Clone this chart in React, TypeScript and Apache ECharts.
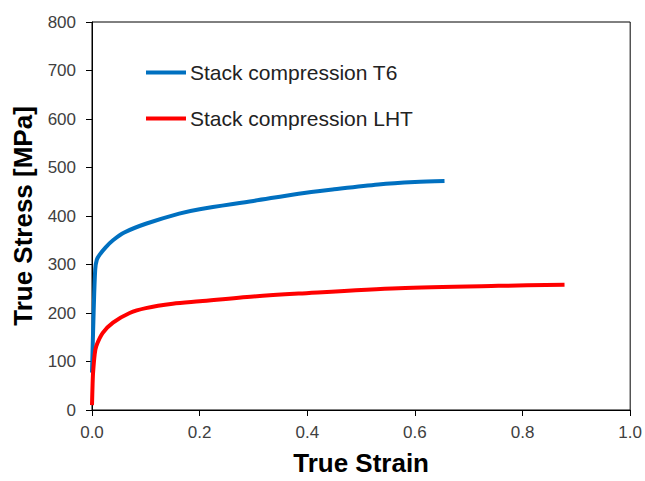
import React, { useEffect, useRef } from "react";
import * as echarts from "echarts";

const seriesNames = ["Stack compression T6", "Stack compression LHT"];
const t6Strain = [0.0, 0.003, 0.006, 0.009, 0.014, 0.025, 0.039, 0.06, 0.1, 0.162, 0.2, 0.3, 0.384, 0.45, 0.532, 0.6, 0.655];
const t6Stress = [77, 200, 290, 310, 320, 335, 350, 366, 384, 405, 414, 431, 446, 455, 465, 470, 472];
const lhtStrain = [0.0, 0.001, 0.002, 0.005, 0.008, 0.02, 0.039, 0.07, 0.1, 0.15, 0.2, 0.3, 0.384, 0.57, 0.755, 0.878];
const lhtStress = [10, 50, 77, 115, 132, 159, 180, 200, 210, 219, 224, 234, 240, 251, 256, 258];

export default function App() {
  const ref = useRef<HTMLDivElement>(null);
  useEffect(() => {
    if (!ref.current) return;
    const chart = echarts.init(ref.current, null, { renderer: "svg" });
    const font = "Liberation Sans, Arial, sans-serif";
    chart.setOption({
      animation: false,
      backgroundColor: "#fff",
      grid: { left: 92, right: 13, top: 22, bottom: 66, show: true, borderColor: "#000", borderWidth: 1, containLabel: false },
      legend: {
        orient: "vertical",
        left: 146,
        top: 62,
        padding: 0,
        itemWidth: 40,
        itemHeight: 4,
        itemGap: 25,
        icon: "rect",
        data: seriesNames,
        textStyle: { fontFamily: font, fontSize: 21, color: "#222", padding: [0, 0, 0, -1] },
      },
      xAxis: {
        type: "value",
        min: 0,
        max: 1,
        interval: 0.2,
        name: "True Strain",
        nameLocation: "middle",
        nameGap: 40,
        nameTextStyle: { fontFamily: font, fontSize: 26, fontWeight: "bold", color: "#000" },
        axisLine: { lineStyle: { color: "#000" } },
        axisTick: { show: true, inside: false, length: 6, lineStyle: { color: "#000" } },
        axisLabel: { fontFamily: font, fontSize: 17, color: "#404040", margin: 14, formatter: (v: number) => v.toFixed(1) },
        splitLine: { show: false },
      },
      yAxis: {
        type: "value",
        min: 0,
        max: 800,
        interval: 100,
        name: "True Stress [MPa]",
        nameLocation: "middle",
        nameGap: 56,
        nameTextStyle: { fontFamily: font, fontSize: 26, fontWeight: "bold", color: "#000" },
        axisLine: { show: true, lineStyle: { color: "#000" } },
        axisTick: { show: true, inside: false, length: 6, lineStyle: { color: "#000" } },
        axisLabel: { fontFamily: font, fontSize: 17, color: "#404040", margin: 16 },
        splitLine: { show: false },
      },
      series: [
        {
          name: seriesNames[0],
          type: "line",
          smooth: 0.3,
          showSymbol: false,
          lineStyle: { color: "#0070C0", width: 4 },
          itemStyle: { color: "#0070C0" },
          data: t6Strain.map((x, i) => [x, t6Stress[i]]),
        },
        {
          name: seriesNames[1],
          type: "line",
          smooth: 0.3,
          showSymbol: false,
          lineStyle: { color: "#FF0000", width: 4 },
          itemStyle: { color: "#FF0000" },
          data: lhtStrain.map((x, i) => [x, lhtStress[i]]),
        },
      ],
    });
    return () => chart.dispose();
  }, []);
  return <div ref={ref} style={{ width: 645, height: 481, position: "absolute", left: 0, top: 0 }} />;
}
